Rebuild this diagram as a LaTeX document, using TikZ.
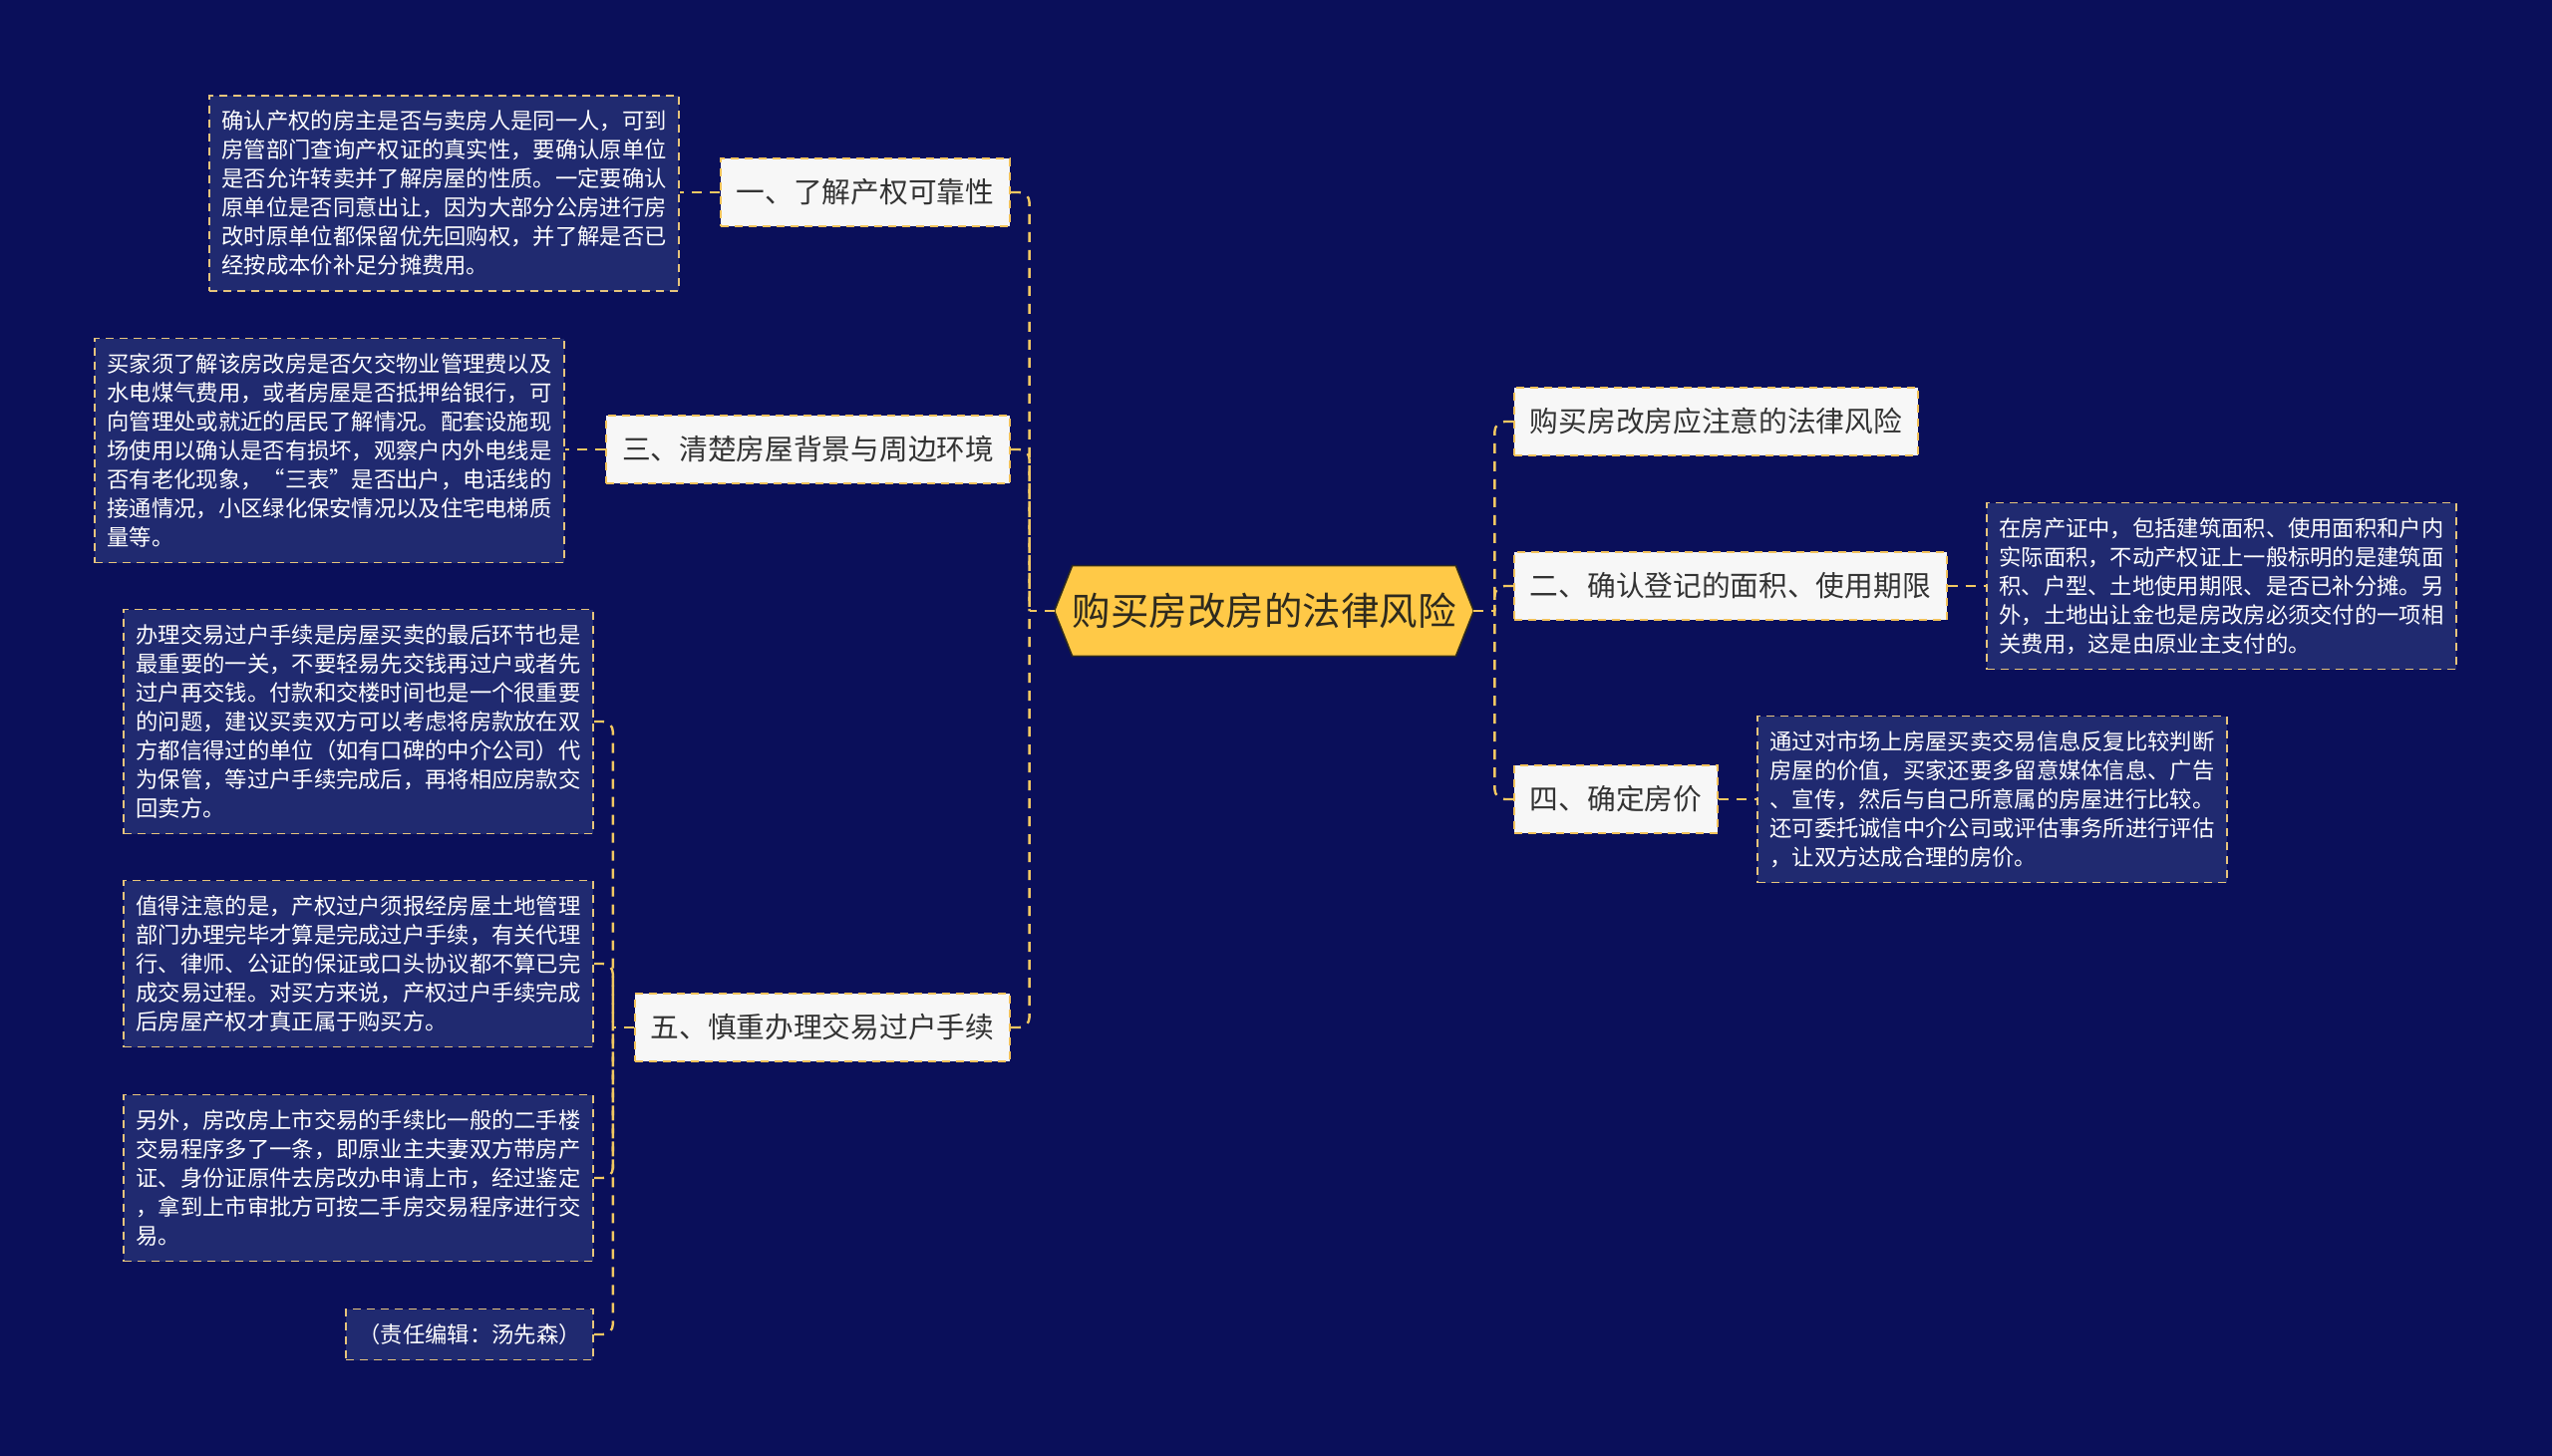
\documentclass[tikz,border=0pt]{standalone}
\usepackage{fontspec}
\setmainfont{Noto Sans CJK SC}
\usetikzlibrary{calc}
\definecolor{bgc}{HTML}{0A0F5A}
\definecolor{leaffill}{HTML}{202A70}
\definecolor{leafline}{HTML}{E6C47C}
\definecolor{brfill}{HTML}{F7F7F7}
\definecolor{brline}{HTML}{F2C25A}
\definecolor{conn}{HTML}{F2C862}
\definecolor{rootfill}{HTML}{FFC947}
\definecolor{roottext}{HTML}{2E2A1E}
\pgfdeclarelayer{background}
\pgfsetlayers{background,main}
\tikzset{
 leaf/.style={draw=leafline, fill=leaffill, dash pattern=on 4pt off 3pt, line width=0.9pt, text=white, align=left, text width=223pt, inner xsep=6.25pt, inner ysep=0pt, font=\fontsize{11.15pt}{14.5pt}\selectfont},
 branch/.style={draw=brline, fill=brfill, dash pattern=on 4pt off 3pt, line width=0.9pt, text=black!80, inner xsep=8pt, inner ysep=0pt, minimum height=33.75pt, font=\fontsize{14.35pt}{17pt}\selectfont},
 link/.style={draw=conn, line width=1.2pt, dash pattern=on 5pt off 4pt, rounded corners=5pt},
}
\begin{document}
\begin{tikzpicture}[x=0.5pt,y=-0.5pt]
\begin{pgfonlayer}{background}
\fill[bgc] (0,0) rectangle (2560,1461);
\end{pgfonlayer}
\useasboundingbox (0,0) rectangle (2560,1461);

% root
\node[font=\fontsize{19.25pt}{22pt}\selectfont, text=roottext, minimum width=210pt, minimum height=45pt, inner sep=0pt] (root) at (1268,613) {购买房改房的法律风险};
\begin{pgfonlayer}{background}
\draw[fill=rootfill, draw=roottext, line width=0.8pt] (root.west) -- ([xshift=9pt]root.north west) -- ([xshift=-9pt]root.north east) -- (root.east) -- ([xshift=-9pt]root.south east) -- ([xshift=9pt]root.south west) -- cycle;
\end{pgfonlayer}

% left branches
\node[branch, anchor=east] (b1) at (1014,193) {一、了解产权可靠性};
\node[branch, anchor=east] (b3) at (1014,451) {三、清楚房屋背景与周边环境};
\node[branch, anchor=east] (b5) at (1014,1031) {五、慎重办理交易过户手续};

% right branches
\node[branch, anchor=west] (r1) at (1518,423) {购买房改房应注意的法律风险};
\node[branch, anchor=west] (r2) at (1518,588) {二、确认登记的面积、使用期限};
\node[branch, anchor=west] (r3) at (1518,802) {四、确定房价};

% leaves
\node[leaf, minimum height=98pt, anchor=east] (l1) at (682,194) {确认产权的房主是否与卖房人是同一人，可到\\房管部门查询产权证的真实性，要确认原单位\\是否允许转卖并了解房屋的性质。一定要确认\\原单位是否同意出让，因为大部分公房进行房\\改时原单位都保留优先回购权，并了解是否已\\经按成本价补足分摊费用。};
\node[leaf, minimum height=112.5pt, anchor=east] (l3) at (567,452) {买家须了解该房改房是否欠交物业管理费以及\\水电煤气费用，或者房屋是否抵押给银行，可\\向管理处或就近的居民了解情况。配套设施现\\场使用以确认是否有损坏，观察户内外电线是\\否有老化现象，“三表”是否出户，电话线的\\接通情况，小区绿化保安情况以及住宅电梯质\\量等。};
\node[leaf, minimum height=112.5pt, anchor=east] (l51) at (596,724) {办理交易过户手续是房屋买卖的最后环节也是\\最重要的一关，不要轻易先交钱再过户或者先\\过户再交钱。付款和交楼时间也是一个很重要\\的问题，建议买卖双方可以考虑将房款放在双\\方都信得过的单位（如有口碑的中介公司）代\\为保管，等过户手续完成后，再将相应房款交\\回卖方。};
\node[leaf, minimum height=83.5pt, anchor=east] (l52) at (596,967) {值得注意的是，产权过户须报经房屋土地管理\\部门办理完毕才算是完成过户手续，有关代理\\行、律师、公证的保证或口头协议都不算已完\\成交易过程。对买方来说，产权过户手续完成\\后房屋产权才真正属于购买方。};
\node[leaf, minimum height=83.5pt, anchor=east] (l53) at (596,1182) {另外，房改房上市交易的手续比一般的二手楼\\交易程序多了一条，即原业主夫妻双方带房产\\证、身份证原件去房改办申请上市，经过鉴定\\，拿到上市审批方可按二手房交易程序进行交\\易。};
\node[leaf, text width=111.5pt, align=center, minimum height=25.5pt, anchor=east] (l54) at (596,1339) {（责任编辑：汤先森）};
\node[leaf, minimum height=83.5pt, anchor=west] (rl2) at (1992,588) {在房产证中，包括建筑面积、使用面积和户内\\实际面积，不动产权证上一般标明的是建筑面\\积、户型、土地使用期限、是否已补分摊。另\\外，土地出让金也是房改房必须交付的一项相\\关费用，这是由原业主支付的。};
\node[leaf, minimum height=83.5pt, anchor=west] (rl4) at (1762,802) {通过对市场上房屋买卖交易信息反复比较判断\\房屋的价值，买家还要多留意媒体信息、广告\\、宣传，然后与自己所意属的房屋进行比较。\\还可委托诚信中介公司或评估事务所进行评估\\，让双方达成合理的房价。};

% junction points
\coordinate (ls) at ([xshift=-12.5pt]root.west);
\coordinate (rs) at ([xshift=10.5pt]root.east);
\coordinate (fs) at ([xshift=-10.5pt]b5.west);

% connectors
\draw[link] (root.west) -- (ls);
\draw[link] (b1.east) -| (ls);
\draw[link] (b3.east) -| (ls);
\draw[link] (b5.east) -| (ls);
\draw[link] (root.east) -- (rs);
\draw[link] (r1.west) -| (rs);
\draw[link] (r2.west) -| (rs);
\draw[link] (r3.west) -| (rs);
\draw[link] (b1.west) -- (b1.west -| l1.east);
\draw[link] (b3.west) -- (b3.west -| l3.east);
\draw[link] (r2.east) -- (r2.east -| rl2.west);
\draw[link] (r3.east) -- (r3.east -| rl4.west);
\draw[link] (b5.west) -- (fs);
\draw[link] (l51.east) -| (fs);
\draw[link] (l52.east) -| (fs);
\draw[link] (l53.east) -| (fs);
\draw[link] (l54.east) -| (fs);
\end{tikzpicture}
\end{document}
